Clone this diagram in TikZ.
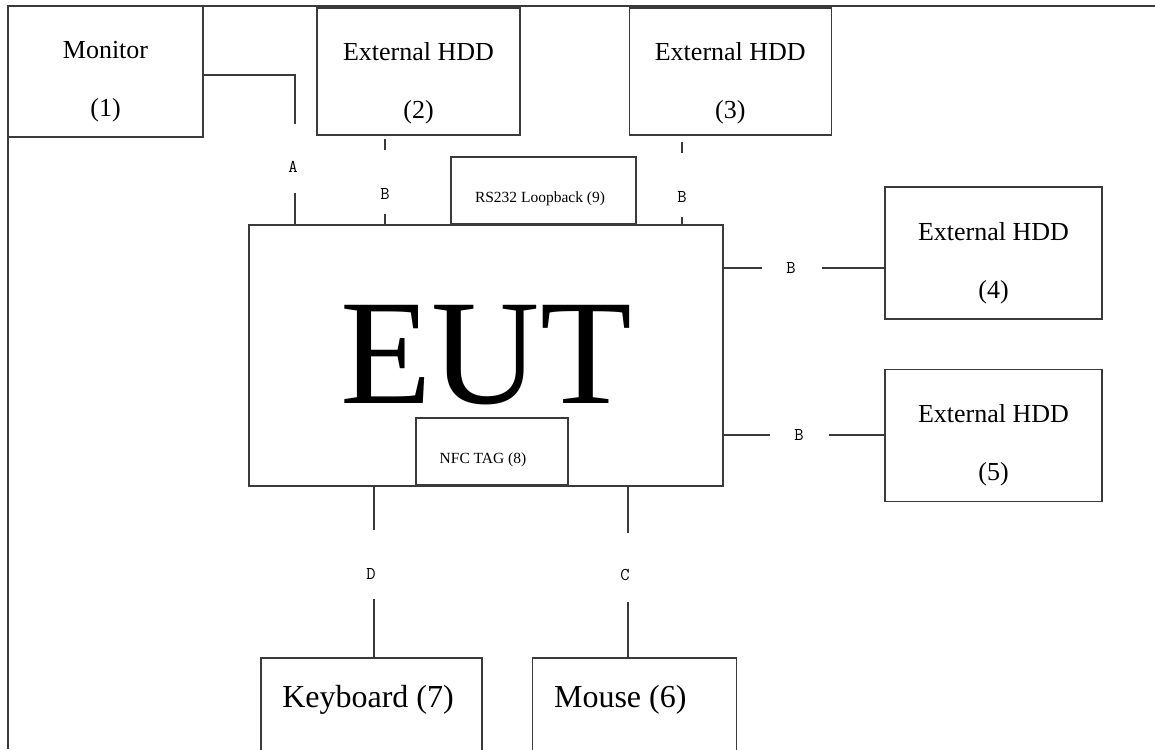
\documentclass[tikz,border=0pt]{standalone}
\usepackage{fontspec}
\setmainfont{Liberation Serif}
\usetikzlibrary{positioning}
\definecolor{linegray}{HTML}{3A3A3A}
\tikzset{
  unit/.style={draw=linegray, line width=1.3pt, inner sep=0pt},
  wire/.style={draw=linegray, line width=1.2pt},
  boxtext/.style={align=center, font=\fontsize{26}{58}\selectfont},
  smalltext/.style={font=\fontsize{15.5}{18}\selectfont},
  bigtext/.style={font=\fontsize{32}{36}\selectfont},
  tag/.style={font=\fontsize{18}{18}\ttfamily, inner sep=0pt},
}

\begin{document}
\begin{tikzpicture}[x=1pt, y=-1pt]
  \clip (0,0) rectangle (1155,749);
  % outer frame
  \draw[wire] (1155,6) -- (8,6) -- (8,749);

  % units
  \node[unit, minimum width=195pt, minimum height=131pt,
        label={[boxtext, yshift=-10pt]center:Monitor\\(1)}] (mon) at (105.5,71.5) {};
  \node[unit, minimum width=203pt, minimum height=127pt,
        label={[boxtext, yshift=-12pt]center:External HDD\\(2)}] (hdd2) at (418.5,71.5) {};
  \node[unit, minimum width=202pt, minimum height=127pt, right=108pt of hdd2,
        label={[boxtext, yshift=-12pt]center:External HDD\\(3)}] (hdd3) {};
  \node[unit, minimum width=217pt, minimum height=132pt,
        label={[boxtext, yshift=-10pt]center:External HDD\\(4)}] (hdd4) at (993.5,253) {};
  \node[unit, minimum width=217pt, minimum height=132pt, below=49pt of hdd4,
        label={[boxtext, yshift=-10pt]center:External HDD\\(5)}] (hdd5) {};
  \node[unit, minimum width=474pt, minimum height=261pt,
        font=\fontsize{150}{150}\selectfont] (eut) at (486,355.5) {EUT};
  \node[unit, minimum width=185pt, minimum height=67pt,
        label={[smalltext, xshift=-3.5pt, yshift=-8.5pt]center:RS232 Loopback (9)}] (rs) at (543.5,190.5) {};
  \node[unit, minimum width=152pt, minimum height=67pt,
        label={[smalltext, xshift=-9pt, yshift=-8.5pt]center:NFC TAG (8)}] (nfc) at (492,451.5) {};
  \node[unit, minimum width=221pt, minimum height=142pt,
        label={[bigtext, xshift=-3.5pt, yshift=29pt]center:Keyboard (7)}] (kbd) at (371.5,729) {};
  \node[unit, minimum width=204pt, minimum height=142pt, right=49pt of kbd,
        label={[bigtext, xshift=-14pt, yshift=29pt]center:Mouse (6)}] (mouse) {};

  % cable tags
  \node[tag] (la) at (293,167) {A};
  \node[tag] (lb2) at (385,194) {B};
  \node[tag] (lb3) at (682,197) {B};
  \node[tag] (lb4) at (791,268) {B};
  \node[tag] (lb5) at (799,435) {B};
  \node[tag] (ld) at (371,574) {D};
  \node[tag] (lc) at (625,575) {C};

  % cable ends
  \coordinate (a0) at (295,75);
  \coordinate (a1) at (295,124);
  \coordinate (a2) at (295,193);
  \coordinate (b2a) at (385,139);
  \coordinate (b2b) at (385,150);
  \coordinate (b2c) at (385,214);
  \coordinate (b3a) at (682,142);
  \coordinate (b3b) at (682,153);
  \coordinate (b3c) at (682,217);
  \coordinate (b4a) at (762,268);
  \coordinate (b4b) at (822,268);
  \coordinate (b5a) at (770,435);
  \coordinate (b5b) at (829,435);
  \coordinate (d1) at (374,530);
  \coordinate (d2) at (374,599);
  \coordinate (c1) at (628,533);
  \coordinate (c2) at (628,602);

  % cables
  \draw[wire] (mon.east |- a0) -- (a0) -- (a1);
  \draw[wire] (a2) -- (a2 |- eut.north);
  \draw[wire] (b2a) -- (b2b);
  \draw[wire] (b2c) -- (b2c |- eut.north);
  \draw[wire] (b3a) -- (b3b);
  \draw[wire] (b3c) -- (b3c |- eut.north);
  \draw[wire] (eut.east |- b4a) -- (b4a);
  \draw[wire] (b4b) -- (hdd4.west |- b4b);
  \draw[wire] (eut.east |- b5a) -- (b5a);
  \draw[wire] (b5b) -- (hdd5.west |- b5b);
  \draw[wire] (eut.south -| d1) -- (d1);
  \draw[wire] (d2) -- (d2 |- kbd.north);
  \draw[wire] (eut.south -| c1) -- (c1);
  \draw[wire] (c2) -- (c2 |- mouse.north);
\end{tikzpicture}
\end{document}
